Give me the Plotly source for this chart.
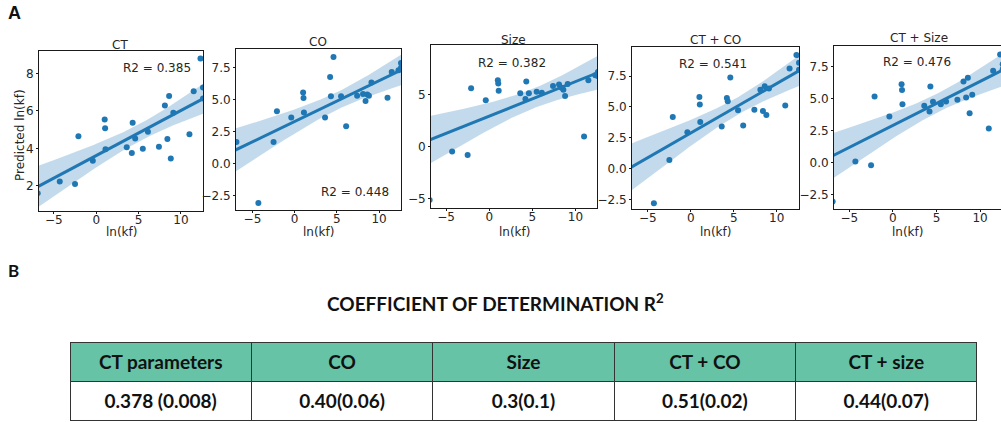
import numpy as np
import plotly.graph_objects as go

# ---------------- data ----------------
ln_kf = [-6.9, -4.3, -2.5, -2.1, -0.4, 1.0, 1.05, 1.1, 3.6, 4.2, 4.3, 4.6, 5.5,
         6.1, 7.4, 8.1, 8.4, 8.6, 8.8, 9.1, 11.0, 11.5, 12.3, 12.6, 12.6]

pred_ct = [1.6, 2.23, 2.09, 4.64, 3.34, 5.54, 5.07, 3.95, 4.05, 3.75, 5.36, 4.52, 3.98,
           4.88, 4.09, 6.29, 4.5, 6.8, 3.45, 5.9, 4.75, 7.05, 8.8, 7.25, 6.66]
pred_co = [1.69, -3.07, 1.7, 4.09, 3.6, 5.57, 5.13, 4.0, 3.6, 6.77, 5.26, 8.33, 5.26,
           2.92, 5.3, 5.45, 4.9, 5.4, 5.3, 6.35, 5.15, 7.17, 7.3, 7.5, 7.86]
pred_size = [-5.1, -0.45, -0.77, 5.64, 4.49, 6.4, 6.1, 5.4, 5.16, 4.6, 6.3, 5.16, 5.3,
             5.2, 5.86, 6.0, 5.7, 5.5, 4.9, 6.05, 1.0, 6.4, 6.9, 6.8, 7.2]
pred_ct_co = [None, -2.76, 0.73, 4.19, 2.97, 5.8, 5.2, 3.78, 3.43, 5.73, 5.46, 7.38, 4.73,
              3.51, 4.78, 6.4, 4.68, 6.68, 4.35, 6.5, 5.13, 8.1, 9.19, 8.57, 8.0]
pred_ct_size = [-3.07, 0.08, -0.23, 5.16, 3.6, 6.12, 5.68, 4.56, 4.43, 3.98, 5.94, 4.75, 4.56,
                4.77, 4.9, 6.33, 5.08, 6.64, 3.85, 5.3, 2.66, 7.19, 8.46, 7.7, 7.3]

panel_titles = ["CT", "CO", "Size", "CT + CO", "CT + Size"]
r2_labels = ["R2 = 0.385", "R2 = 0.448", "R2 = 0.382", "R2 = 0.541", "R2 = 0.476"]

table_header = ["CT parameters", "CO", "Size", "CT + CO", "CT + size"]
table_values = ["0.378 (0.008)", "0.40(0.06)", "0.3(0.1)", "0.51(0.02)", "0.44(0.07)"]

series = [pred_ct, pred_co, pred_size, pred_ct_co, pred_ct_size]

# ---------------- layout helpers ----------------
W, H = 1001, 422
def fx(px):
    return px / W
def fy(py):
    return 1 - py / H

# panel boxes in px: (left, right, top, bottom)
boxes = [(39, 203, 51, 211), (236, 401, 49, 210), (431, 597, 45, 208),
         (632, 799, 47, 209), (834, 1001, 46, 209)]
xranges = [[-6.75, 12.6], [-6.95, 12.6], [-6.75, 12.5], [-6.85, 12.6], [-6.75, 12.4]]
yranges = [[0.65, 9.2], [-3.62, 8.96], [-5.87, 9.8], [-3.23, 9.84], [-3.65, 9.12]]
ytickvals = [[2, 4, 6, 8], [-2.5, 0, 2.5, 5, 7.5], [-5, 0, 5],
             [-2.5, 0, 2.5, 5, 7.5], [-2.5, 0, 2.5, 5, 7.5]]
yticktexts = [["2", "4", "6", "8"], ["−2.5", "0.0", "2.5", "5.0", "7.5"], ["−5", "0", "5"],
              ["−2.5", "0.0", "2.5", "5.0", "7.5"], ["−2.5", "0.0", "2.5", "5.0", "7.5"]]
r2_pos = [(157, 68), (355, 192), (512, 63), (713, 64), (917, 62)]
title_pos = [(120, 45), (318, 42), (513, 40), (715, 40), (919, 38)]

BLUE = "#1f77b4"
FONT = "DejaVu Sans"
TXT = "#262626"
CAL = "Lato, Liberation Sans"

fig = go.Figure()
annotations = []
layout = {}

def ann(text, px, py, size, family=FONT, color=TXT, **kw):
    return dict(text=text, x=fx(px), y=fy(py), xref="paper", yref="paper",
                xanchor="center", yanchor="middle", showarrow=False,
                font=dict(family=family, size=size, color=color), **kw)

for i, ys in enumerate(series):
    k = "" if i == 0 else str(i + 1)
    xa, ya = "x" + k, "y" + k
    x = np.array(ln_kf, dtype=float)
    y = np.array([np.nan if v is None else v for v in ys], dtype=float)
    m = ~np.isnan(y)
    xv, yv = x[m], y[m]
    b1, b0 = np.polyfit(xv, yv, 1)
    xs = np.linspace(xranges[i][0] - 0.5, xranges[i][1] + 0.5, 120)
    yhat = b0 + b1 * xs
    n = len(xv)
    s = np.sqrt(np.sum((yv - (b0 + b1 * xv)) ** 2) / (n - 2))
    sxx = np.sum((xv - xv.mean()) ** 2)
    se = s * np.sqrt(1 / n + (xs - xv.mean()) ** 2 / sxx)
    lo, hi = yhat - 2.07 * se, yhat + 2.07 * se

    fig.add_trace(go.Scatter(x=xv, y=yv, mode="markers", xaxis=xa, yaxis=ya,
                             marker=dict(color=BLUE, size=6), showlegend=False))
    fig.add_trace(go.Scatter(x=np.concatenate([xs, xs[::-1]]), y=np.concatenate([lo, hi[::-1]]),
                             fill="toself", fillcolor="rgba(31,119,180,0.27)",
                             line=dict(width=0), mode="lines", xaxis=xa, yaxis=ya,
                             showlegend=False, hoverinfo="skip"))
    fig.add_trace(go.Scatter(x=xs, y=yhat, mode="lines", xaxis=xa, yaxis=ya,
                             line=dict(color=BLUE, width=3), showlegend=False))

    l, r, t, b = boxes[i]
    axcommon = dict(showline=True, mirror=True, linecolor="#1a1a1a", linewidth=1,
                    showgrid=False, zeroline=False, ticks="outside", ticklen=2,
                    automargin=False,
                    tickcolor="#1a1a1a", tickfont=dict(family=FONT, size=12, color=TXT))
    layout["xaxis" + k] = dict(domain=[fx(l), fx(r)], range=xranges[i], anchor=ya,
                               tickvals=[-5, 0, 5, 10], ticktext=["−5", "0", "5", "10"],
                               ticklabelstandoff=-4, **axcommon)
    layout["yaxis" + k] = dict(domain=[fy(b), fy(t)], range=yranges[i], anchor=xa,
                               tickvals=ytickvals[i], ticktext=yticktexts[i], **axcommon)

    annotations.append(ann(r2_labels[i], r2_pos[i][0], r2_pos[i][1], 12))
    annotations.append(ann(panel_titles[i], title_pos[i][0], title_pos[i][1], 12))
    annotations.append(ann("ln(kf)", (l + min(r, 1001)) / 2 if i < 4 else 907, 232, 12))

annotations.append(ann("Predicted ln(kf)", 20, 135, 12, textangle=-90))
annotations.append(ann("<b>A</b>", 14, 13, 18, family="Liberation Sans", color="#111"))
annotations.append(ann("<b>B</b>", 13, 270, 17, family=CAL, color="#111"))
annotations.append(ann("<b>COEFFICIENT OF DETERMINATION R<sup>2</sup></b>", 495, 302, 19,
                       family=CAL, color="#111"))

fig.add_trace(go.Table(
    domain=dict(x=[fx(70), fx(977)], y=[0, fy(342)]),
    columnwidth=[1, 1, 1, 1, 1],
    header=dict(values=["<b>%s</b>" % h for h in table_header],
                fill_color="#66C3A6", line=dict(color="#333333", width=1),
                align="center", height=38,
                font=dict(family=CAL, size=19, color="#111")),
    cells=dict(values=[["<b>%s</b>" % v] for v in table_values],
               fill_color="white", line=dict(color="#333333", width=1),
               align="center", height=36,
               font=dict(family=CAL, size=19, color="#111")),
))

fig.update_layout(width=W, height=H, margin=dict(l=0, r=0, t=0, b=0),
                  paper_bgcolor="white", plot_bgcolor="white",
                  annotations=annotations, showlegend=False, **layout)

fig.write_html("out.html")
